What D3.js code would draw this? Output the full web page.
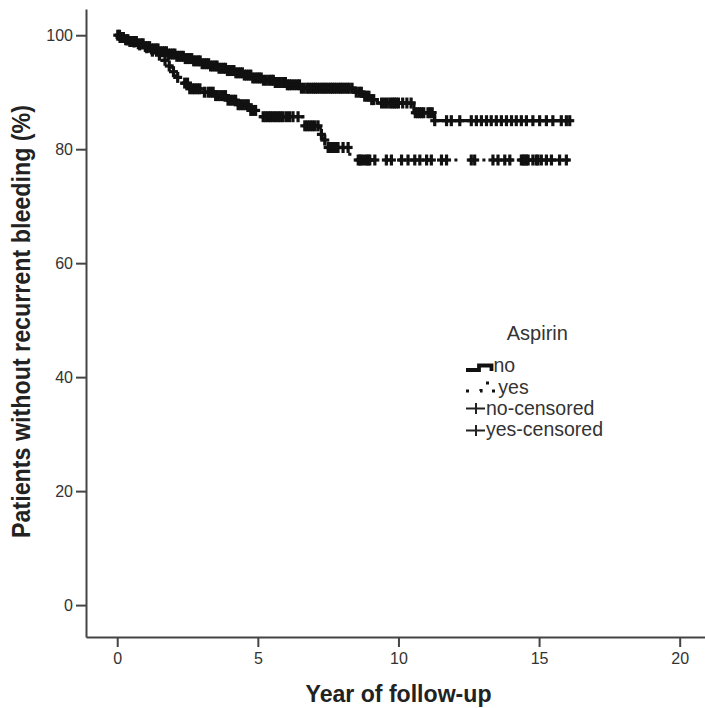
<!DOCTYPE html>
<html><head><meta charset="utf-8">
<script src="https://cdn.jsdelivr.net/npm/d3@7"></script>
<style>
html,body{margin:0;padding:0;background:#fff;}
svg{display:block;font-family:"Liberation Sans",Arial,sans-serif;}
</style></head>
<body><svg id="c" width="705" height="708"></svg>
<script>
// ---- data ----
const xTicks = [0, 5, 10, 15, 20];
const yTicks = [0, 20, 40, 60, 80, 100];
const xTitle = "Year of follow-up";
const yTitle = "Patients without recurrent bleeding (%)";
const legendTitle = "Aspirin";
const legendLabels = ["no", "yes", "no-censored", "yes-censored"];

// Kaplan-Meier steps: [time (years), survival (%)]
const noSteps = [[0,100],[0.1,99.6],[0.25,99.2],[0.45,98.9],[0.7,98.5],[0.95,98.0],[1.2,97.6],[1.5,97.1],
  [1.8,96.7],[2.1,96.3],[2.4,95.9],[2.7,95.5],[3.0,95.0],[3.3,94.6],[3.6,94.2],[3.9,93.8],[4.2,93.4],
  [4.5,93.0],[4.8,92.5],[5.2,92.1],[5.6,91.7],[6.0,91.3],[6.5,90.7],[8.45,90.0],[8.75,89.3],[9.0,88.7],
  [9.25,88.1],[10.55,86.4],[11.28,85.0]];
const noEnd = 16.15;
const yesSteps = [[0,100],[0.1,99.6],[0.25,99.2],[0.45,98.8],[0.7,98.3],[0.95,97.8],[1.2,97.2],[1.4,96.5],
  [1.6,95.6],[1.75,94.6],[1.9,93.6],[2.1,92.6],[2.3,91.6],[2.55,90.6],[3.0,90.0],[3.5,89.4],[3.9,88.6],
  [4.3,87.8],[4.7,86.8],[5.0,85.7],[6.6,84.1],[7.22,82.6],[7.33,81.6],[7.45,80.3],[8.27,78.1]];
const yesEnd = 16.1;

// censored observation times (years)
const noCensored = [0.02,0.08,0.15,0.22,0.3,0.38,0.45,0.52,0.6,0.68,0.75,0.85,0.92,1.0,1.08,1.15,1.22,1.3,
  1.38,1.45,1.52,1.6,1.68,1.75,1.82,1.9,1.98,2.05,2.12,2.2,2.28,2.35,2.42,2.5,2.58,2.65,2.72,2.8,2.88,
  2.95,3.02,3.1,3.18,3.25,3.32,3.4,3.48,3.55,3.62,3.7,3.78,3.85,3.92,4.0,4.08,4.15,4.22,4.3,4.38,4.45,
  4.52,4.6,4.68,4.75,4.82,4.9,4.98,5.05,5.12,5.2,5.3,5.4,5.48,5.55,5.62,5.7,5.8,5.9,5.98,6.05,6.12,6.2,
  6.3,6.4,6.48,6.55,6.65,6.75,6.82,6.9,6.98,7.05,7.12,7.2,7.28,7.35,7.42,7.5,7.58,7.65,7.72,7.8,7.88,
  7.95,8.02,8.1,8.18,8.25,8.35,8.5,8.6,8.68,8.8,8.88,8.95,9.05,9.12,9.4,9.5,9.6,9.7,9.78,9.85,9.92,10.0,
  10.15,10.3,10.45,10.6,10.68,10.75,10.82,10.9,11.05,11.12,11.2,11.29,11.71,11.88,12.18,12.59,12.77,12.95,
  13.13,13.3,13.48,13.66,13.84,14.02,14.19,14.37,14.55,14.78,15.02,15.26,15.49,15.79,15.97,16.09];
const yesCensored = [0.1,0.35,0.6,0.8,1.05,1.25,1.5,1.7,1.85,2.0,2.15,2.4,2.5,2.58,2.68,2.76,2.85,2.94,3.1,
  3.23,3.32,3.41,3.5,3.59,3.68,3.77,3.85,3.94,4.03,4.12,4.21,4.3,4.39,4.48,4.57,4.66,4.75,4.83,4.92,5.19,
  5.28,5.37,5.45,5.54,5.63,5.72,5.81,5.9,6.02,6.13,6.25,6.43,6.67,6.76,6.85,6.94,7.03,7.14,7.26,7.38,7.5,
  7.56,7.62,7.68,7.74,7.8,7.85,8.03,8.21,8.57,8.63,8.68,8.77,8.86,8.92,8.98,9.16,9.57,9.75,10.11,10.34,
  10.58,10.76,11.0,11.17,11.53,11.71,12.59,12.71,13.36,13.54,13.78,13.96,14.37,14.43,14.49,14.55,14.61,
  14.78,14.9,14.96,15.08,15.26,15.44,15.73,15.97];

// ---- drawing ----
const svg = d3.select("#c");
const textCol = "#333";
const axisCol = "#444";
const x = d3.scaleLinear().domain([-1.11, 20.9]).range([86, 705]);
const y = d3.scaleLinear().domain([-5.6, 104.6]).range([637, 9]);

function survAt(steps, t) {
  let v = steps[0][1];
  for (const s of steps) { if (s[0] <= t) v = s[1]; else break; }
  return v;
}

// axes
const gx = svg.append("g").attr("transform", "translate(0,637)")
  .call(d3.axisBottom(x).tickValues(xTicks).tickSize(10).tickSizeOuter(0).tickPadding(6));
const gy = svg.append("g").attr("transform", "translate(86,0)")
  .call(d3.axisLeft(y).tickValues(yTicks).tickSize(10).tickSizeOuter(0).tickPadding(3));
[gx, gy].forEach(g => {
  g.select(".domain").attr("stroke", axisCol).attr("stroke-width", 2);
  g.selectAll(".tick line").attr("stroke", axisCol).attr("stroke-width", 2);
  g.selectAll(".tick text").attr("fill", textCol).style("font-size", "16px")
    .style("font-family", "'Liberation Sans',Arial,sans-serif");
});

// titles
svg.append("text").attr("x", 398.5).attr("y", 702).attr("text-anchor", "middle")
  .attr("fill", "#222").style("font-size", "23px").style("font-weight", "bold")
  .attr("textLength", 186).attr("lengthAdjust", "spacingAndGlyphs").text(xTitle);
svg.append("text").attr("transform", "translate(30,321.5) rotate(-90)").attr("text-anchor", "middle")
  .attr("fill", "#222").style("font-size", "25px").style("font-weight", "bold")
  .attr("textLength", 433).attr("lengthAdjust", "spacingAndGlyphs").text(yTitle);

// curves
const line = d3.line().x(d => x(d[0])).y(d => y(d[1])).curve(d3.curveStepAfter);
const noPts = noSteps.concat([[noEnd, noSteps[noSteps.length - 1][1]]]);
const yesPts = yesSteps.concat([[yesEnd, yesSteps[yesSteps.length - 1][1]]]);
svg.append("path").datum(noPts).attr("d", line).attr("fill", "none")
  .attr("stroke", "#111").attr("stroke-width", 3.2);
svg.append("path").datum(yesPts).attr("d", line).attr("fill", "none")
  .attr("stroke", "#111").attr("stroke-width", 3.2).attr("stroke-dasharray", "3,11");

function drawCensor(times, steps) {
  const g = svg.append("g").attr("stroke", "#111").attr("stroke-width", 3.2);
  times.forEach(t => {
    const cx = x(t), cy = y(survAt(steps, t));
    g.append("line").attr("x1", cx).attr("x2", cx).attr("y1", cy - 5.5).attr("y2", cy + 5.5);
    g.append("line").attr("x1", cx - 4.5).attr("x2", cx + 4.5).attr("y1", cy).attr("y2", cy);
  });
}
drawCensor(noCensored, noSteps);
drawCensor(yesCensored, yesSteps);

// legend
svg.append("text").attr("x", 537.3).attr("y", 339.5).attr("text-anchor", "middle")
  .attr("fill", textCol).style("font-size", "20px").text(legendTitle);
const lg = svg.append("g");
lg.append("path").attr("d", "M466,370 H479 V365.5 H491.5 V371").attr("fill", "none")
  .attr("stroke", "#111").attr("stroke-width", 3.8);
lg.append("path").attr("d", "M466,391 H481 V383 H490 V391 H497").attr("fill", "none")
  .attr("stroke", "#111").attr("stroke-width", 3.2).attr("stroke-dasharray", "3,11");
[408.5, 430.5].forEach(cy => {
  lg.append("line").attr("x1", 466).attr("x2", 485).attr("y1", cy).attr("y2", cy)
    .attr("stroke", "#222").attr("stroke-width", 2);
  lg.append("line").attr("x1", 476).attr("x2", 476).attr("y1", cy - 5.5).attr("y2", cy + 5.5)
    .attr("stroke", "#222").attr("stroke-width", 2);
});
const lx = [493.5, 498.3, 486, 486];
const ly = [372, 393.5, 414.5, 436];
legendLabels.forEach((lab, i) => {
  lg.append("text").attr("x", lx[i]).attr("y", ly[i]).attr("fill", textCol)
    .style("font-size", "19.5px").text(lab);
});
</script></body></html>
